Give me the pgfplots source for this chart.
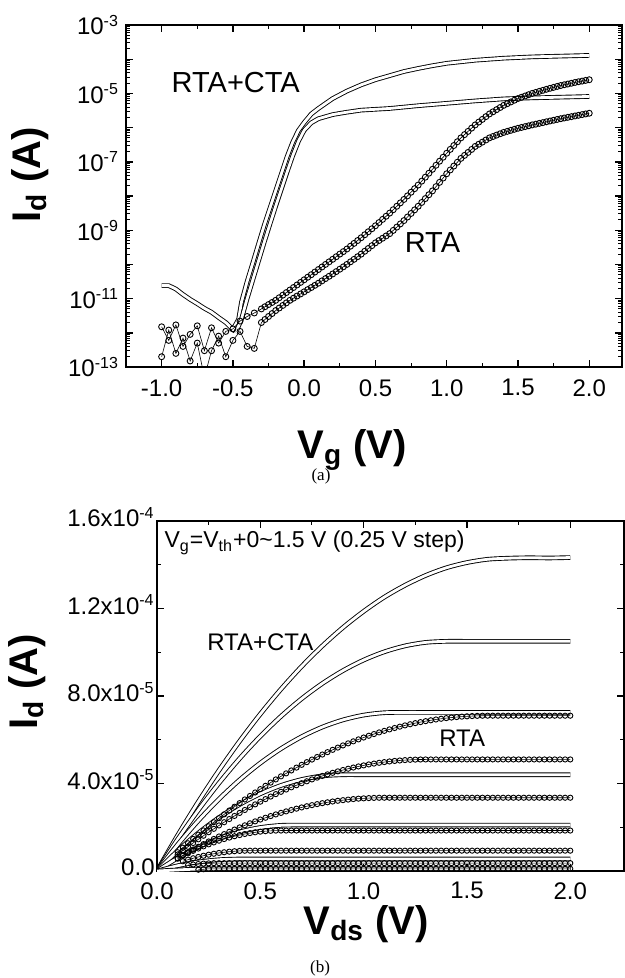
\documentclass[border=0pt]{standalone}
\usepackage{fontspec}
\setmainfont{Liberation Sans}
\newfontfamily\capfont{Liberation Serif}
\usepackage{pgfplots}
\usepackage{pgfplotstable}
\pgfplotsset{compat=1.18}

% ---- panel (a): transfer curves, Id vs Vg ----
% RTA+CTA, high Vd
\pgfplotstableread{
V I
-1.00 2.4e-11
-0.95 2.4e-11
-0.90 1.9e-11
-0.85 1.32e-11
-0.80 9.5e-12
-0.75 7.1e-12
-0.70 5.2e-12
-0.65 4.0e-12
-0.60 2.8e-12
-0.55 2.0e-12
-0.50 1.26e-12
-0.46 2.5e-12
-0.44 7.9e-12
-0.40 3.2e-11
-0.36 1.12e-10
-0.32 4.0e-10
-0.28 1.41e-9
-0.24 4.47e-9
-0.20 1.41e-8
-0.16 4.47e-8
-0.12 1.41e-7
-0.08 3.8e-7
-0.04 8.3e-7
0.00 1.41e-6
0.05 2.51e-6
0.10 3.63e-6
0.20 7.08e-6
0.30 1.17e-5
0.40 1.78e-5
0.50 2.51e-5
0.60 3.31e-5
0.70 4.37e-5
0.80 5.37e-5
0.90 6.46e-5
1.00 7.59e-5
1.20 9.33e-5
1.40 1.07e-4
1.60 1.17e-4
1.80 1.23e-4
2.00 1.29e-4
}\ctaA
% RTA+CTA, low Vd
\pgfplotstableread{
V I
-0.48 1.0e-12
-0.44 2.5e-12
-0.40 1.0e-11
-0.36 3.55e-11
-0.32 1.26e-10
-0.28 4.47e-10
-0.24 1.51e-9
-0.20 5.0e-9
-0.16 1.58e-8
-0.12 5.0e-8
-0.08 1.51e-7
-0.04 3.98e-7
0.00 8.3e-7
0.05 1.38e-6
0.10 1.82e-6
0.20 2.4e-6
0.30 2.82e-6
0.40 3.24e-6
0.60 3.63e-6
0.80 4.37e-6
1.00 5.13e-6
1.20 6.03e-6
1.40 6.92e-6
1.60 7.41e-6
1.80 7.76e-6
2.00 8.13e-6
}\ctaB
% RTA, high Vd
\pgfplotstableread{
V I
-1.00 1.5e-12
-0.95 6.0e-13
-0.90 1.7e-12
-0.85 4.0e-13
-0.80 9.0e-13
-0.75 1.6e-12
-0.70 3.0e-13
-0.65 1.4e-12
-0.60 5.0e-13
-0.55 1.1e-12
-0.50 1.3e-12
-0.45 2.2e-12
-0.40 3.0e-12
-0.35 3.8e-12
-0.300 5.0e-12
-0.275 5.79e-12
-0.250 6.7e-12
-0.225 7.72e-12
-0.200 8.9e-12
-0.175 1.06e-11
-0.150 1.26e-11
-0.125 1.50e-11
-0.100 1.78e-11
-0.075 2.11e-11
-0.050 2.51e-11
-0.025 2.98e-11
0.000 3.55e-11
0.025 4.22e-11
0.050 5.01e-11
0.075 5.96e-11
0.100 7.08e-11
0.125 8.41e-11
0.150 1.00e-10
0.175 1.19e-10
0.200 1.41e-10
0.225 1.68e-10
0.250 2.00e-10
0.275 2.37e-10
0.300 2.82e-10
0.325 3.41e-10
0.350 4.12e-10
0.375 4.98e-10
0.400 6.03e-10
0.425 7.37e-10
0.450 9.02e-10
0.475 1.10e-9
0.500 1.35e-9
0.525 1.67e-9
0.550 2.07e-9
0.575 2.56e-9
0.600 3.16e-9
0.625 3.98e-9
0.650 5.01e-9
0.675 6.31e-9
0.700 7.94e-9
0.725 1.01e-8
0.750 1.29e-8
0.775 1.64e-8
0.800 2.09e-8
0.825 2.72e-8
0.850 3.55e-8
0.875 4.63e-8
0.900 6.03e-8
0.925 7.92e-8
0.950 1.04e-7
0.975 1.36e-7
1.000 1.78e-7
1.025 2.31e-7
1.050 2.99e-7
1.075 3.87e-7
1.100 5.01e-7
1.125 6.24e-7
1.150 7.76e-7
1.175 9.65e-7
1.200 1.20e-6
1.225 1.45e-6
1.250 1.74e-6
1.275 2.09e-6
1.300 2.51e-6
1.325 2.90e-6
1.350 3.35e-6
1.375 3.87e-6
1.400 4.47e-6
1.425 5.01e-6
1.450 5.62e-6
1.475 6.31e-6
1.500 7.08e-6
1.525 7.72e-6
1.550 8.41e-6
1.575 9.17e-6
1.600 1.00e-5
1.625 1.07e-5
1.650 1.15e-5
1.675 1.23e-5
1.700 1.32e-5
1.725 1.41e-5
1.750 1.50e-5
1.775 1.60e-5
1.800 1.70e-5
1.825 1.79e-5
1.850 1.88e-5
1.875 1.98e-5
1.900 2.09e-5
1.925 2.19e-5
1.950 2.29e-5
1.975 2.40e-5
2.000 2.51e-5
}\rtaA
% RTA, low Vd
\pgfplotstableread{
V I
-1.00 2.0e-13
-0.95 1.2e-12
-0.90 2.5e-13
-0.85 7.0e-13
-0.80 1.5e-13
-0.75 5.0e-13
-0.70 5.0e-14
-0.65 3.0e-13
-0.60 8.0e-13
-0.55 2.0e-13
-0.50 6.0e-13
-0.45 1.1e-12
-0.40 4.0e-13
-0.35 3.5e-13
-0.300 2.0e-12
-0.275 2.45e-12
-0.250 3.0e-12
-0.225 3.66e-12
-0.200 4.47e-12
-0.175 5.31e-12
-0.150 6.31e-12
-0.125 7.50e-12
-0.100 8.91e-12
-0.075 1.03e-11
-0.050 1.19e-11
-0.025 1.37e-11
0.000 1.58e-11
0.025 1.83e-11
0.050 2.11e-11
0.075 2.44e-11
0.100 2.82e-11
0.125 3.30e-11
0.150 3.85e-11
0.175 4.50e-11
0.200 5.25e-11
0.225 6.17e-11
0.250 7.24e-11
0.275 8.51e-11
0.300 1.00e-10
0.325 1.19e-10
0.350 1.41e-10
0.375 1.68e-10
0.400 2.00e-10
0.425 2.42e-10
0.450 2.92e-10
0.475 3.53e-10
0.500 4.27e-10
0.525 4.99e-10
0.550 5.82e-10
0.575 6.80e-10
0.600 7.94e-10
0.625 9.88e-10
0.650 1.23e-9
0.675 1.53e-9
0.700 1.91e-9
0.725 2.43e-9
0.750 3.09e-9
0.775 3.93e-9
0.800 5.01e-9
0.825 6.49e-9
0.850 8.41e-9
0.875 1.09e-8
0.900 1.41e-8
0.925 1.88e-8
0.950 2.51e-8
0.975 3.35e-8
1.000 4.47e-8
1.025 5.79e-8
1.050 7.50e-8
1.075 9.72e-8
1.100 1.26e-7
1.125 1.54e-7
1.150 1.88e-7
1.175 2.30e-7
1.200 2.82e-7
1.225 3.26e-7
1.250 3.76e-7
1.275 4.34e-7
1.300 5.01e-7
1.325 5.50e-7
1.350 6.03e-7
1.375 6.61e-7
1.400 7.24e-7
1.425 7.76e-7
1.450 8.32e-7
1.475 8.91e-7
1.500 9.55e-7
1.525 1.01e-6
1.550 1.07e-6
1.575 1.13e-6
1.600 1.20e-6
1.625 1.26e-6
1.650 1.33e-6
1.675 1.40e-6
1.700 1.48e-6
1.725 1.56e-6
1.750 1.64e-6
1.775 1.73e-6
1.800 1.82e-6
1.825 1.91e-6
1.850 2.00e-6
1.875 2.09e-6
1.900 2.19e-6
1.925 2.29e-6
1.950 2.40e-6
1.975 2.51e-6
2.000 2.63e-6
}\rtaB

% ---- panel (b): output curves, Id vs Vds ----
% RTA+CTA, Vg = Vth + 1.5 ... 0 V
\pgfplotstableread{
V c1 c2 c3 c4 c5 c6 c7
0.0 0 0 0 0 0 0 0
0.1 1.633e-5 1.447e-5 1.206e-5 0.924e-5 0.596e-5 0.241e-5 0.050e-5
0.2 3.167e-5 2.786e-5 2.303e-5 1.738e-5 1.093e-5 0.413e-5 0.090e-5
0.3 4.602e-5 4.018e-5 3.289e-5 2.444e-5 1.491e-5 0.516e-5 0.100e-5
0.4 5.937e-5 5.143e-5 4.166e-5 3.042e-5 1.789e-5 0.550e-5 0.100e-5
0.5 7.175e-5 6.160e-5 4.934e-5 3.531e-5 1.988e-5 0.550e-5 0.100e-5
0.6 8.313e-5 7.071e-5 5.592e-5 3.911e-5 2.088e-5 0.550e-5 0.100e-5
0.7 9.352e-5 7.875e-5 6.140e-5 4.183e-5 2.100e-5 0.550e-5 0.100e-5
0.8 10.29e-5 8.571e-5 6.579e-5 4.346e-5 2.100e-5 0.550e-5 0.100e-5
0.9 11.13e-5 9.160e-5 6.907e-5 4.400e-5 2.100e-5 0.550e-5 0.100e-5
1.0 11.87e-5 9.643e-5 7.127e-5 4.400e-5 2.100e-5 0.550e-5 0.100e-5
1.1 12.52e-5 10.02e-5 7.236e-5 4.400e-5 2.100e-5 0.550e-5 0.100e-5
1.2 13.06e-5 10.29e-5 7.250e-5 4.400e-5 2.100e-5 0.550e-5 0.100e-5
1.3 13.51e-5 10.45e-5 7.250e-5 4.400e-5 2.100e-5 0.550e-5 0.100e-5
1.4 13.86e-5 10.50e-5 7.250e-5 4.400e-5 2.100e-5 0.550e-5 0.100e-5
1.5 14.10e-5 10.50e-5 7.250e-5 4.400e-5 2.100e-5 0.550e-5 0.100e-5
1.6 14.25e-5 10.50e-5 7.250e-5 4.400e-5 2.100e-5 0.550e-5 0.100e-5
1.7 14.30e-5 10.50e-5 7.250e-5 4.400e-5 2.100e-5 0.550e-5 0.100e-5
1.8 14.32e-5 10.50e-5 7.250e-5 4.400e-5 2.100e-5 0.550e-5 0.100e-5
1.9 14.31e-5 10.50e-5 7.250e-5 4.400e-5 2.100e-5 0.550e-5 0.100e-5
2.0 14.33e-5 10.50e-5 7.250e-5 4.400e-5 2.100e-5 0.550e-5 0.100e-5
}\ctaout
% RTA, Vg = Vth + 1.5 ... 0 V
\pgfplotstableread{
V r1 r2 r3 r4 r5 r6 r7
0.100 0.860e-5 0.754e-5 0.581e-5 0.565e-5 nan nan nan
0.125 1.066e-5 0.934e-5 0.718e-5 0.691e-5 0.445e-5 nan nan
0.150 1.269e-5 1.109e-5 0.851e-5 0.809e-5 0.517e-5 0.270e-5 nan
0.175 1.468e-5 1.281e-5 0.981e-5 0.922e-5 0.583e-5 0.298e-5 nan
0.200 1.664e-5 1.449e-5 1.107e-5 1.028e-5 0.643e-5 0.320e-5 0.060e-5
0.225 1.856e-5 1.613e-5 1.230e-5 1.127e-5 0.698e-5 0.338e-5 0.080e-5
0.250 2.045e-5 1.773e-5 1.350e-5 1.220e-5 0.746e-5 0.350e-5 0.100e-5
0.275 2.231e-5 1.929e-5 1.466e-5 1.307e-5 0.789e-5 0.358e-5 0.100e-5
0.300 2.413e-5 2.082e-5 1.578e-5 1.387e-5 0.827e-5 0.360e-5 0.100e-5
0.325 2.591e-5 2.231e-5 1.687e-5 1.461e-5 0.858e-5 0.360e-5 0.100e-5
0.350 2.767e-5 2.376e-5 1.793e-5 1.529e-5 0.884e-5 0.360e-5 0.100e-5
0.375 2.938e-5 2.518e-5 1.895e-5 1.590e-5 0.904e-5 0.360e-5 0.100e-5
0.400 3.106e-5 2.656e-5 1.993e-5 1.644e-5 0.919e-5 0.360e-5 0.100e-5
0.425 3.271e-5 2.790e-5 2.089e-5 1.693e-5 0.927e-5 0.360e-5 0.100e-5
0.450 3.432e-5 2.920e-5 2.180e-5 1.734e-5 0.930e-5 0.360e-5 0.100e-5
0.475 3.590e-5 3.046e-5 2.269e-5 1.770e-5 0.930e-5 0.360e-5 0.100e-5
0.500 3.744e-5 3.169e-5 2.353e-5 1.799e-5 0.930e-5 0.360e-5 0.100e-5
0.525 3.895e-5 3.287e-5 2.435e-5 1.821e-5 0.930e-5 0.360e-5 0.100e-5
0.550 4.042e-5 3.403e-5 2.513e-5 1.837e-5 0.930e-5 0.360e-5 0.100e-5
0.575 4.186e-5 3.514e-5 2.587e-5 1.847e-5 0.930e-5 0.360e-5 0.100e-5
0.600 4.327e-5 3.621e-5 2.658e-5 1.850e-5 0.930e-5 0.360e-5 0.100e-5
0.625 4.463e-5 3.725e-5 2.725e-5 1.850e-5 0.930e-5 0.360e-5 0.100e-5
0.650 4.597e-5 3.825e-5 2.789e-5 1.850e-5 0.930e-5 0.360e-5 0.100e-5
0.675 4.727e-5 3.921e-5 2.850e-5 1.850e-5 0.930e-5 0.360e-5 0.100e-5
0.700 4.854e-5 4.014e-5 2.907e-5 1.850e-5 0.930e-5 0.360e-5 0.100e-5
0.725 4.977e-5 4.102e-5 2.961e-5 1.850e-5 0.930e-5 0.360e-5 0.100e-5
0.750 5.096e-5 4.187e-5 3.011e-5 1.850e-5 0.930e-5 0.360e-5 0.100e-5
0.775 5.212e-5 4.268e-5 3.058e-5 1.850e-5 0.930e-5 0.360e-5 0.100e-5
0.800 5.325e-5 4.346e-5 3.101e-5 1.850e-5 0.930e-5 0.360e-5 0.100e-5
0.825 5.434e-5 4.419e-5 3.141e-5 1.850e-5 0.930e-5 0.360e-5 0.100e-5
0.850 5.540e-5 4.489e-5 3.177e-5 1.850e-5 0.930e-5 0.360e-5 0.100e-5
0.875 5.642e-5 4.555e-5 3.210e-5 1.850e-5 0.930e-5 0.360e-5 0.100e-5
0.900 5.741e-5 4.617e-5 3.239e-5 1.850e-5 0.930e-5 0.360e-5 0.100e-5
0.925 5.836e-5 4.676e-5 3.265e-5 1.850e-5 0.930e-5 0.360e-5 0.100e-5
0.950 5.928e-5 4.730e-5 3.288e-5 1.850e-5 0.930e-5 0.360e-5 0.100e-5
0.975 6.017e-5 4.781e-5 3.307e-5 1.850e-5 0.930e-5 0.360e-5 0.100e-5
1.000 6.102e-5 4.828e-5 3.322e-5 1.850e-5 0.930e-5 0.360e-5 0.100e-5
1.025 6.183e-5 4.872e-5 3.334e-5 1.850e-5 0.930e-5 0.360e-5 0.100e-5
1.050 6.261e-5 4.911e-5 3.343e-5 1.850e-5 0.930e-5 0.360e-5 0.100e-5
1.075 6.336e-5 4.947e-5 3.348e-5 1.850e-5 0.930e-5 0.360e-5 0.100e-5
1.100 6.407e-5 4.979e-5 3.350e-5 1.850e-5 0.930e-5 0.360e-5 0.100e-5
1.125 6.474e-5 5.008e-5 3.350e-5 1.850e-5 0.930e-5 0.360e-5 0.100e-5
1.150 6.538e-5 5.032e-5 3.350e-5 1.850e-5 0.930e-5 0.360e-5 0.100e-5
1.175 6.599e-5 5.053e-5 3.350e-5 1.850e-5 0.930e-5 0.360e-5 0.100e-5
1.200 6.656e-5 5.070e-5 3.350e-5 1.850e-5 0.930e-5 0.360e-5 0.100e-5
1.225 6.710e-5 5.083e-5 3.350e-5 1.850e-5 0.930e-5 0.360e-5 0.100e-5
1.250 6.760e-5 5.092e-5 3.350e-5 1.850e-5 0.930e-5 0.360e-5 0.100e-5
1.275 6.807e-5 5.098e-5 3.350e-5 1.850e-5 0.930e-5 0.360e-5 0.100e-5
1.300 6.850e-5 5.100e-5 3.350e-5 1.850e-5 0.930e-5 0.360e-5 0.100e-5
1.325 6.890e-5 5.100e-5 3.350e-5 1.850e-5 0.930e-5 0.360e-5 0.100e-5
1.350 6.927e-5 5.100e-5 3.350e-5 1.850e-5 0.930e-5 0.360e-5 0.100e-5
1.375 6.960e-5 5.100e-5 3.350e-5 1.850e-5 0.930e-5 0.360e-5 0.100e-5
1.400 6.989e-5 5.100e-5 3.350e-5 1.850e-5 0.930e-5 0.360e-5 0.100e-5
1.425 7.015e-5 5.100e-5 3.350e-5 1.850e-5 0.930e-5 0.360e-5 0.100e-5
1.450 7.038e-5 5.100e-5 3.350e-5 1.850e-5 0.930e-5 0.360e-5 0.100e-5
1.475 7.057e-5 5.100e-5 3.350e-5 1.850e-5 0.930e-5 0.360e-5 0.100e-5
1.500 7.072e-5 5.100e-5 3.350e-5 1.850e-5 0.930e-5 0.360e-5 0.100e-5
1.525 7.084e-5 5.100e-5 3.350e-5 1.850e-5 0.930e-5 0.360e-5 0.100e-5
1.550 7.093e-5 5.100e-5 3.350e-5 1.850e-5 0.930e-5 0.360e-5 0.100e-5
1.575 7.098e-5 5.100e-5 3.350e-5 1.850e-5 0.930e-5 0.360e-5 0.100e-5
1.600 7.100e-5 5.100e-5 3.350e-5 1.850e-5 0.930e-5 0.360e-5 0.100e-5
1.625 7.100e-5 5.100e-5 3.350e-5 1.850e-5 0.930e-5 0.360e-5 0.100e-5
1.650 7.100e-5 5.100e-5 3.350e-5 1.850e-5 0.930e-5 0.360e-5 0.100e-5
1.675 7.100e-5 5.100e-5 3.350e-5 1.850e-5 0.930e-5 0.360e-5 0.100e-5
1.700 7.100e-5 5.100e-5 3.350e-5 1.850e-5 0.930e-5 0.360e-5 0.100e-5
1.725 7.100e-5 5.100e-5 3.350e-5 1.850e-5 0.930e-5 0.360e-5 0.100e-5
1.750 7.100e-5 5.100e-5 3.350e-5 1.850e-5 0.930e-5 0.360e-5 0.100e-5
1.775 7.100e-5 5.100e-5 3.350e-5 1.850e-5 0.930e-5 0.360e-5 0.100e-5
1.800 7.100e-5 5.100e-5 3.350e-5 1.850e-5 0.930e-5 0.360e-5 0.100e-5
1.825 7.100e-5 5.100e-5 3.350e-5 1.850e-5 0.930e-5 0.360e-5 0.100e-5
1.850 7.100e-5 5.100e-5 3.350e-5 1.850e-5 0.930e-5 0.360e-5 0.100e-5
1.875 7.100e-5 5.100e-5 3.350e-5 1.850e-5 0.930e-5 0.360e-5 0.100e-5
1.900 7.100e-5 5.100e-5 3.350e-5 1.850e-5 0.930e-5 0.360e-5 0.100e-5
1.925 7.100e-5 5.100e-5 3.350e-5 1.850e-5 0.930e-5 0.360e-5 0.100e-5
1.950 7.100e-5 5.100e-5 3.350e-5 1.850e-5 0.930e-5 0.360e-5 0.100e-5
1.975 7.100e-5 5.100e-5 3.350e-5 1.850e-5 0.930e-5 0.360e-5 0.100e-5
2.000 7.100e-5 5.100e-5 3.350e-5 1.850e-5 0.930e-5 0.360e-5 0.100e-5
}\rtaout

\pgfplotsset{
  tftaxis/.style={
    scale only axis,
    anchor=north west,
    axis line style={line width=1.2pt},
    tick align=inside,
    major tick length=3.3pt,
    minor tick length=1.8pt,
    tick style={black, line width=0.7pt},
    minor tick style={line width=0.5pt},
    tick label style={font=\fontsize{12}{13}\selectfont},
  },
  ctaline/.style={black, line width=0.45pt, double=white, double distance=1.4pt, no markers},
  rtamark/.style={black, line width=0.3pt, mark=o, mark options={line width=0.45pt}},
}

\begin{document}
\begin{tikzpicture}
\path[use as bounding box] (0,0) rectangle (312.5pt,-489pt);

% (a)
\begin{axis}[tftaxis,
  at={(63pt,-12.5pt)}, width=248pt, height=171pt,
  ymode=log, xmin=-1.25, xmax=2.23, ymin=1e-13, ymax=1e-3,
  xtick={-1,-0.5,0,0.5,1,1.5,2},
  xticklabels={-1.0,-0.5,0.0,0.5,1.0,1.5,2.0},
  minor x tick num=1,
  xticklabel style={yshift=-2.7pt},
  ytick={1e-13,1e-12,1e-11,1e-10,1e-9,1e-8,1e-7,1e-6,1e-5,1e-4,1e-3},
  yticklabels={10\textsuperscript{-13},,10\textsuperscript{-11},,10\textsuperscript{-9},,10\textsuperscript{-7},,10\textsuperscript{-5},,10\textsuperscript{-3}},
  minor ytick={2e-13,3e-13,4e-13,5e-13,6e-13,7e-13,8e-13,9e-13,
    2e-12,3e-12,4e-12,5e-12,6e-12,7e-12,8e-12,9e-12,
    2e-11,3e-11,4e-11,5e-11,6e-11,7e-11,8e-11,9e-11,
    2e-10,3e-10,4e-10,5e-10,6e-10,7e-10,8e-10,9e-10,
    2e-9,3e-9,4e-9,5e-9,6e-9,7e-9,8e-9,9e-9,
    2e-8,3e-8,4e-8,5e-8,6e-8,7e-8,8e-8,9e-8,
    2e-7,3e-7,4e-7,5e-7,6e-7,7e-7,8e-7,9e-7,
    2e-6,3e-6,4e-6,5e-6,6e-6,7e-6,8e-6,9e-6,
    2e-5,3e-5,4e-5,5e-5,6e-5,7e-5,8e-5,9e-5,
    2e-4,3e-4,4e-4,5e-4,6e-4,7e-4,8e-4,9e-4},
]
\addplot[ctaline] table[x=V,y=I] {\ctaA};
\addplot[ctaline] table[x=V,y=I] {\ctaB};
\addplot[rtamark, mark size=1.5pt] table[x=V,y=I] {\rtaA};
\addplot[rtamark, mark size=1.5pt] table[x=V,y=I] {\rtaB};
\node[font=\fontsize{14.5}{15}\selectfont] at (axis cs:-0.48,2.1e-5) {RTA+CTA};
\node[font=\fontsize{14.5}{15}\selectfont] at (axis cs:0.90,4.5e-10) {RTA};
\end{axis}

% (b)
\begin{axis}[tftaxis,
  at={(78.5pt,-260.5pt)}, width=233.5pt, height=175pt,
  xmin=0, xmax=2.26, ymin=0, ymax=1.6e-4,
  xtick={0,0.5,1,1.5,2},
  xticklabels={0.0,0.5,1.0,1.5,2.0},
  minor x tick num=1,
  xticklabel style={yshift=-2.2pt},
  ytick={0,4e-5,8e-5,1.2e-4,1.6e-4},
  yticklabels={0.0,4.0x10\textsuperscript{-5},8.0x10\textsuperscript{-5},1.2x10\textsuperscript{-4},1.6x10\textsuperscript{-4}},
  scaled y ticks=false,
  minor y tick num=1,
  yticklabel style={inner xsep=1pt, yshift=2pt},
]
\foreach \c in {c1,c2,c3,c4,c5,c6,c7}{
  \addplot[ctaline, smooth] table[x=V,y=\c] {\ctaout};
}
\foreach \r in {r1,r2,r3,r4,r5,r6,r7}{
  \addplot[rtamark, mark size=1.3pt] table[x=V,y=\r] {\rtaout};
}
\node[font=\fontsize{11.5}{12}\selectfont, anchor=north west, inner sep=0pt] at (axis cs:0.035,1.555e-4)
  {V\textsubscript{g}=V\textsubscript{th}+0\textasciitilde1.5 V (0.25 V step)};
\node[font=\fontsize{12}{13}\selectfont] at (axis cs:0.50,1.044e-4) {RTA+CTA};
\node[font=\fontsize{12}{13}\selectfont] at (axis cs:1.477,6.08e-5) {RTA};
\end{axis}

% axis titles and panel captions
\node[font=\fontsize{20}{20}\selectfont\bfseries, anchor=base] at (176pt,-229pt) {V\textsubscript{g} (V)};
\node[font=\fontsize{20}{20}\selectfont\bfseries, anchor=base, rotate=90] at (20pt,-87.5pt) {I\textsubscript{d} (A)};
\node[font=\capfont\fontsize{8.5}{9}\selectfont] at (160.5pt,-238pt) {(a)};
\node[font=\fontsize{20}{20}\selectfont\bfseries, anchor=base] at (183pt,-467pt) {V\textsubscript{ds} (V)};
\node[font=\fontsize{20}{20}\selectfont\bfseries, anchor=base, rotate=90] at (18.5pt,-341pt) {I\textsubscript{d} (A)};
\node[font=\capfont\fontsize{8.5}{9}\selectfont] at (160pt,-484pt) {(b)};
\end{tikzpicture}
\end{document}
